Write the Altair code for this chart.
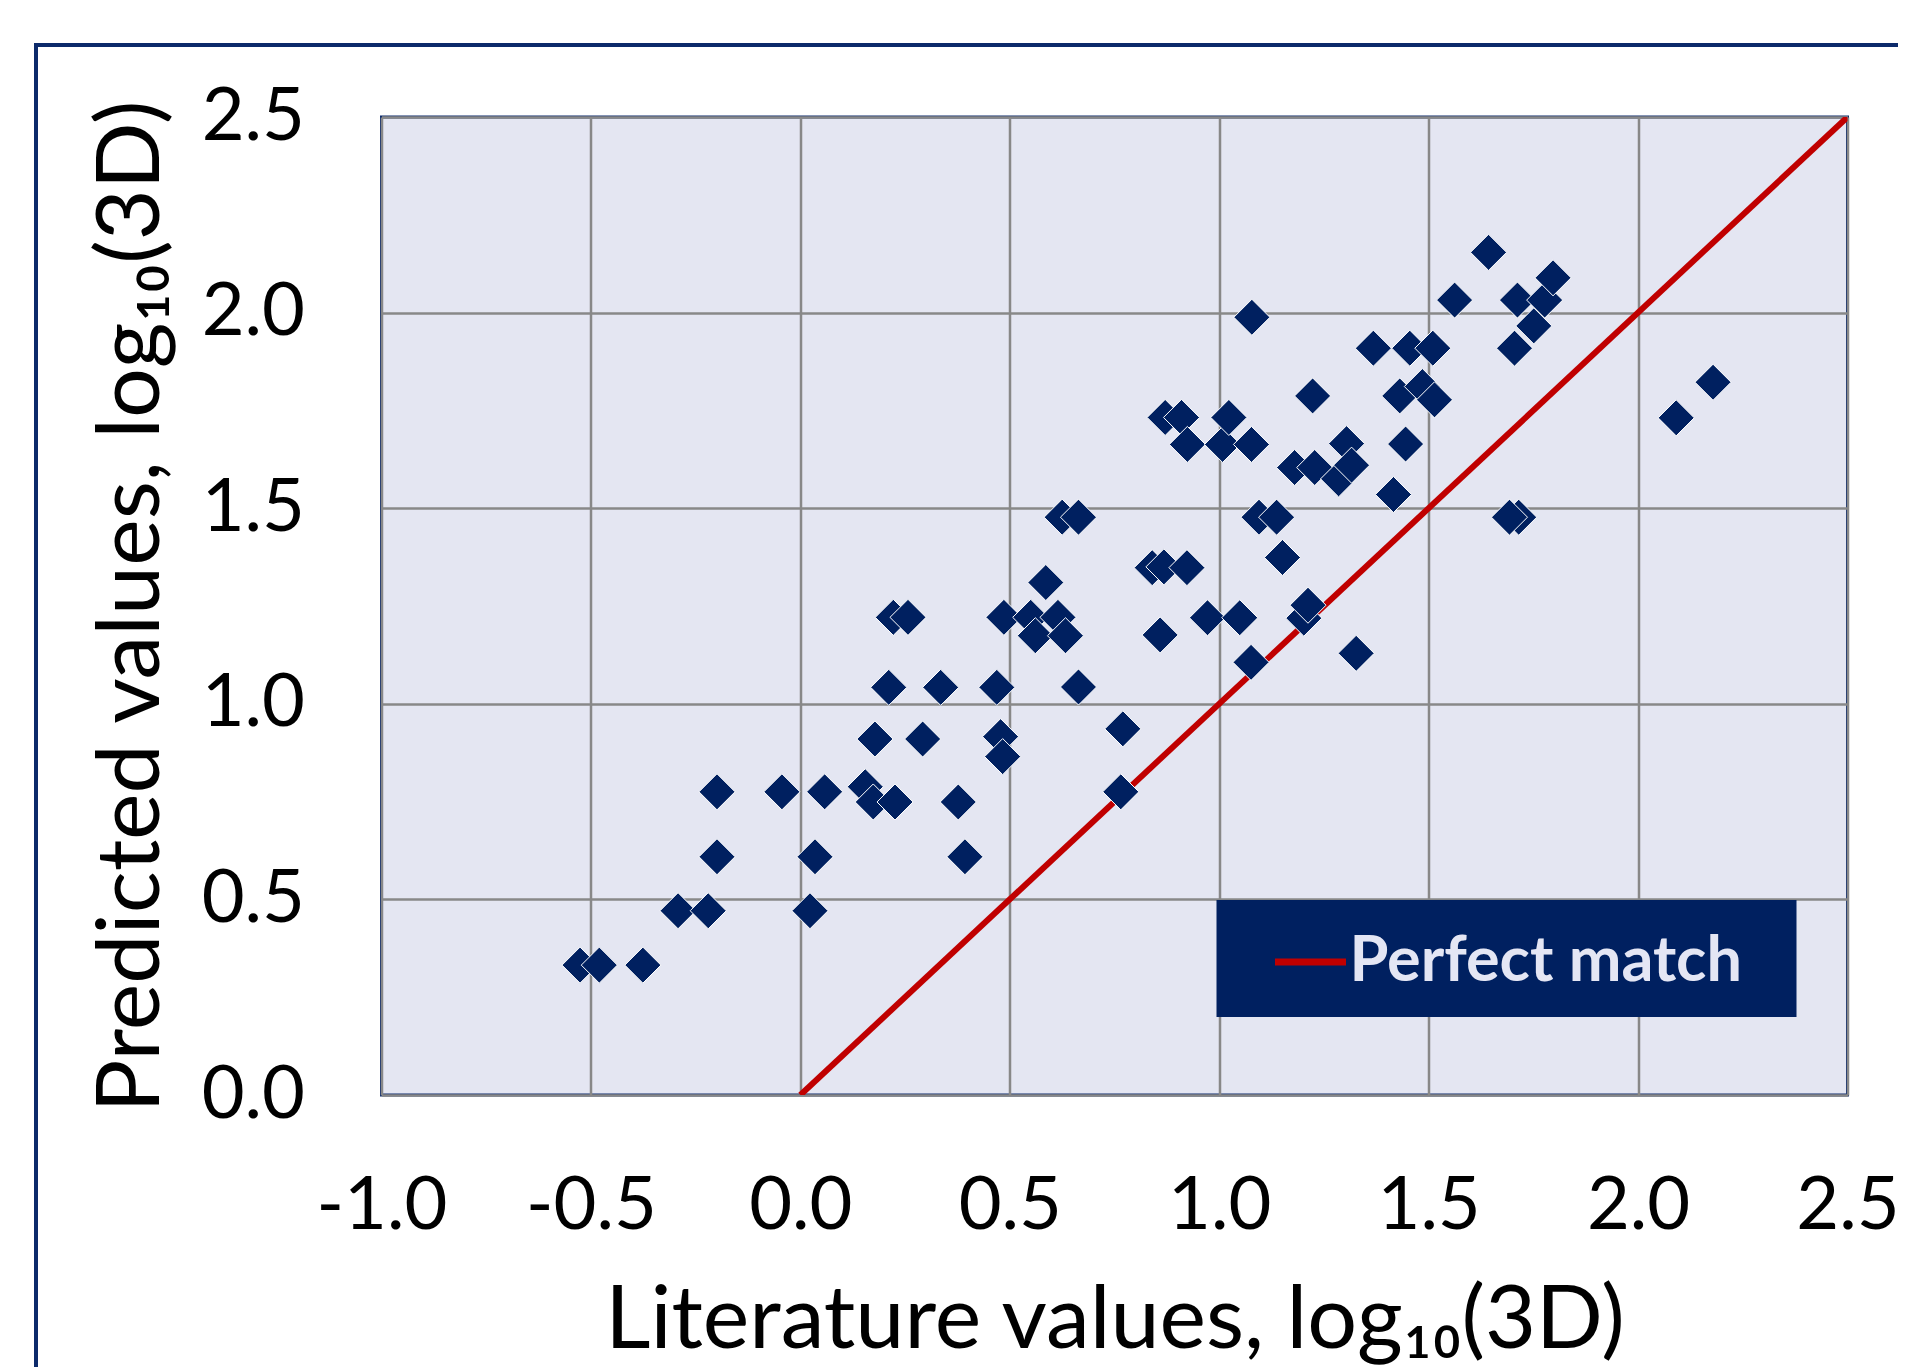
import altair as alt
import pandas as pd

# Literature values (x) and predicted values (y), log10(3D)
lit_x = [
    -0.526, -0.480, -0.376, -0.292, -0.220, -0.199, -0.199, -0.044, 0.023, 0.035,
    0.058, 0.155, 0.174, 0.178, 0.226, 0.211, 0.222, 0.257, 0.292, 0.335,
    0.377, 0.393, 0.469, 0.478, 0.483, 0.486, 0.550, 0.561, 0.586, 0.615,
    0.633, 0.625, 0.664, 0.664, 0.770, 0.765, 0.840, 0.868, 0.859, 0.871,
    0.910, 0.924, 0.923, 0.972, 1.008, 1.023, 1.049, 1.076, 1.078, 1.077,
    1.095, 1.137, 1.151, 1.180, 1.202, 1.212, 1.223, 1.228, 1.285, 1.304,
    1.316, 1.327, 1.368, 1.416, 1.431, 1.445, 1.455, 1.485, 1.510, 1.514,
    1.562, 1.643, 1.715, 1.693, 1.705, 1.712, 1.751, 1.777, 1.797, 2.091,
    2.179,
]
pred_y = [
    0.332, 0.332, 0.332, 0.471, 0.471, 0.775, 0.609, 0.775, 0.471, 0.609,
    0.775, 0.788, 0.749, 0.910, 0.749, 1.042, 1.221, 1.221, 0.910, 1.042,
    0.749, 0.609, 1.042, 0.916, 0.865, 1.221, 1.221, 1.174, 1.310, 1.221,
    1.174, 1.477, 1.477, 1.043, 0.936, 0.775, 1.348, 1.350, 1.176, 1.732,
    1.732, 1.663, 1.348, 1.220, 1.663, 1.732, 1.220, 1.106, 1.988, 1.663,
    1.477, 1.477, 1.374, 1.604, 1.219, 1.252, 1.787, 1.604, 1.575, 1.665,
    1.610, 1.129, 1.909, 1.535, 1.787, 1.664, 1.909, 1.811, 1.909, 1.777,
    2.032, 2.154, 1.477, 1.477, 1.909, 2.032, 1.966, 2.032, 2.089, 1.731,
    1.822,
]

# Perfect-match diagonal
diag_x = [0.0, 2.5]
diag_y = [0.0, 2.5]
series_name = "Perfect match"

x_ticks = [-1.0, -0.5, 0.0, 0.5, 1.0, 1.5, 2.0, 2.5]
y_ticks = [0.0, 0.5, 1.0, 1.5, 2.0, 2.5]

x_title = "Literature values, log\u2081\u2080(3D)"
y_title = "Predicted values, log\u2081\u2080(3D)"

NAVY = "#002060"
FRAME = "#0c2a6b"
RED = "#c00000"
FONT = "Lato"

W, H = 1466, 978

pts = pd.DataFrame({"lit": lit_x, "pred": pred_y})
diag = pd.DataFrame({"lit": diag_x, "pred": diag_y, "series": [series_name] * len(diag_x)})
frame_df = pd.DataFrame({"k": [0]})

xscale = alt.Scale(domain=[x_ticks[0], x_ticks[-1]], nice=False, zero=False)
yscale = alt.Scale(domain=[y_ticks[0], y_ticks[-1]], nice=False, zero=False)

xaxis = alt.Axis(
    values=x_ticks,
    labelExpr="replace(format(datum.value, '.1f'), '\u2212', '-')",
    title=x_title,
    titleX=W / 2,
    titleY=252,
    titleAlign="center",
    titleBaseline="alphabetic",
    labelPadding=75,
    labelBaseline="top",
    labelAlign="center",
)
yaxis = alt.Axis(
    values=y_ticks,
    format=".1f",
    title=y_title,
    titleX=-223,
    titleY=H / 2,
    titleAngle=270,
    titleAlign="center",
    titleBaseline="alphabetic",
    labelPadding=77,
    labelAlign="right",
    labelBaseline="middle",
)

frame_layer = alt.Chart(frame_df).mark_rect(
    fillOpacity=0, stroke=FRAME, strokeWidth=4
).encode(
    x=alt.value(-345.5), x2=alt.value(W + 400),
    y=alt.value(-72), y2=alt.value(H + 500),
)

line_layer = alt.Chart(diag).mark_line(strokeWidth=6, clip=True).encode(
    x=alt.X("lit:Q", scale=xscale, axis=xaxis),
    y=alt.Y("pred:Q", scale=yscale, axis=yaxis),
    color=alt.Color(
        "series:N",
        scale=alt.Scale(domain=[series_name], range=[RED]),
        legend=alt.Legend(
            orient="none",
            legendX=835,
            legendY=783,
            title=None,
            fillColor=NAVY,
            padding=23,
            symbolType="stroke",
            symbolSize=5041,
            symbolStrokeWidth=7,
            symbolOffset=32,
            labelExpr="datum.label + '\u00a0\u00a0\u2060'",
            labelFont=FONT,
            labelFontSize=63,
            labelFontWeight="bold",
            labelColor="#e4e6f4",
            labelOffset=0,
            labelLimit=0,
        ),
    ),
)

point_layer = alt.Chart(pts).mark_point(
    shape="diamond", filled=True, fill=NAVY, fillOpacity=1,
    stroke="white", strokeWidth=1, strokeOpacity=1, size=1300,
).encode(
    x=alt.X("lit:Q", scale=xscale),
    y=alt.Y("pred:Q", scale=yscale),
)

chart = alt.layer(frame_layer, line_layer, point_layer).properties(
    width=W,
    height=H,
    background="white",
    padding={"left": 373.5, "top": 109, "right": 50, "bottom": 272},
    autosize=alt.AutoSizeParams(type="none"),
).configure_view(
    fill="#e4e6f2", stroke=FRAME, strokeWidth=3,
).configure_axis(
    grid=True,
    gridColor="#888888",
    gridWidth=2.5,
    gridOpacity=1,
    domain=False,
    ticks=False,
    tickSize=0,
    labelFont=FONT,
    labelFontSize=74,
    labelColor="black",
    titleFont=FONT,
    titleFontSize=88,
    titleFontWeight="normal",
    titleColor="black",
)

chart.save("out.html", embed_options={"renderer": "svg", "actions": False})
